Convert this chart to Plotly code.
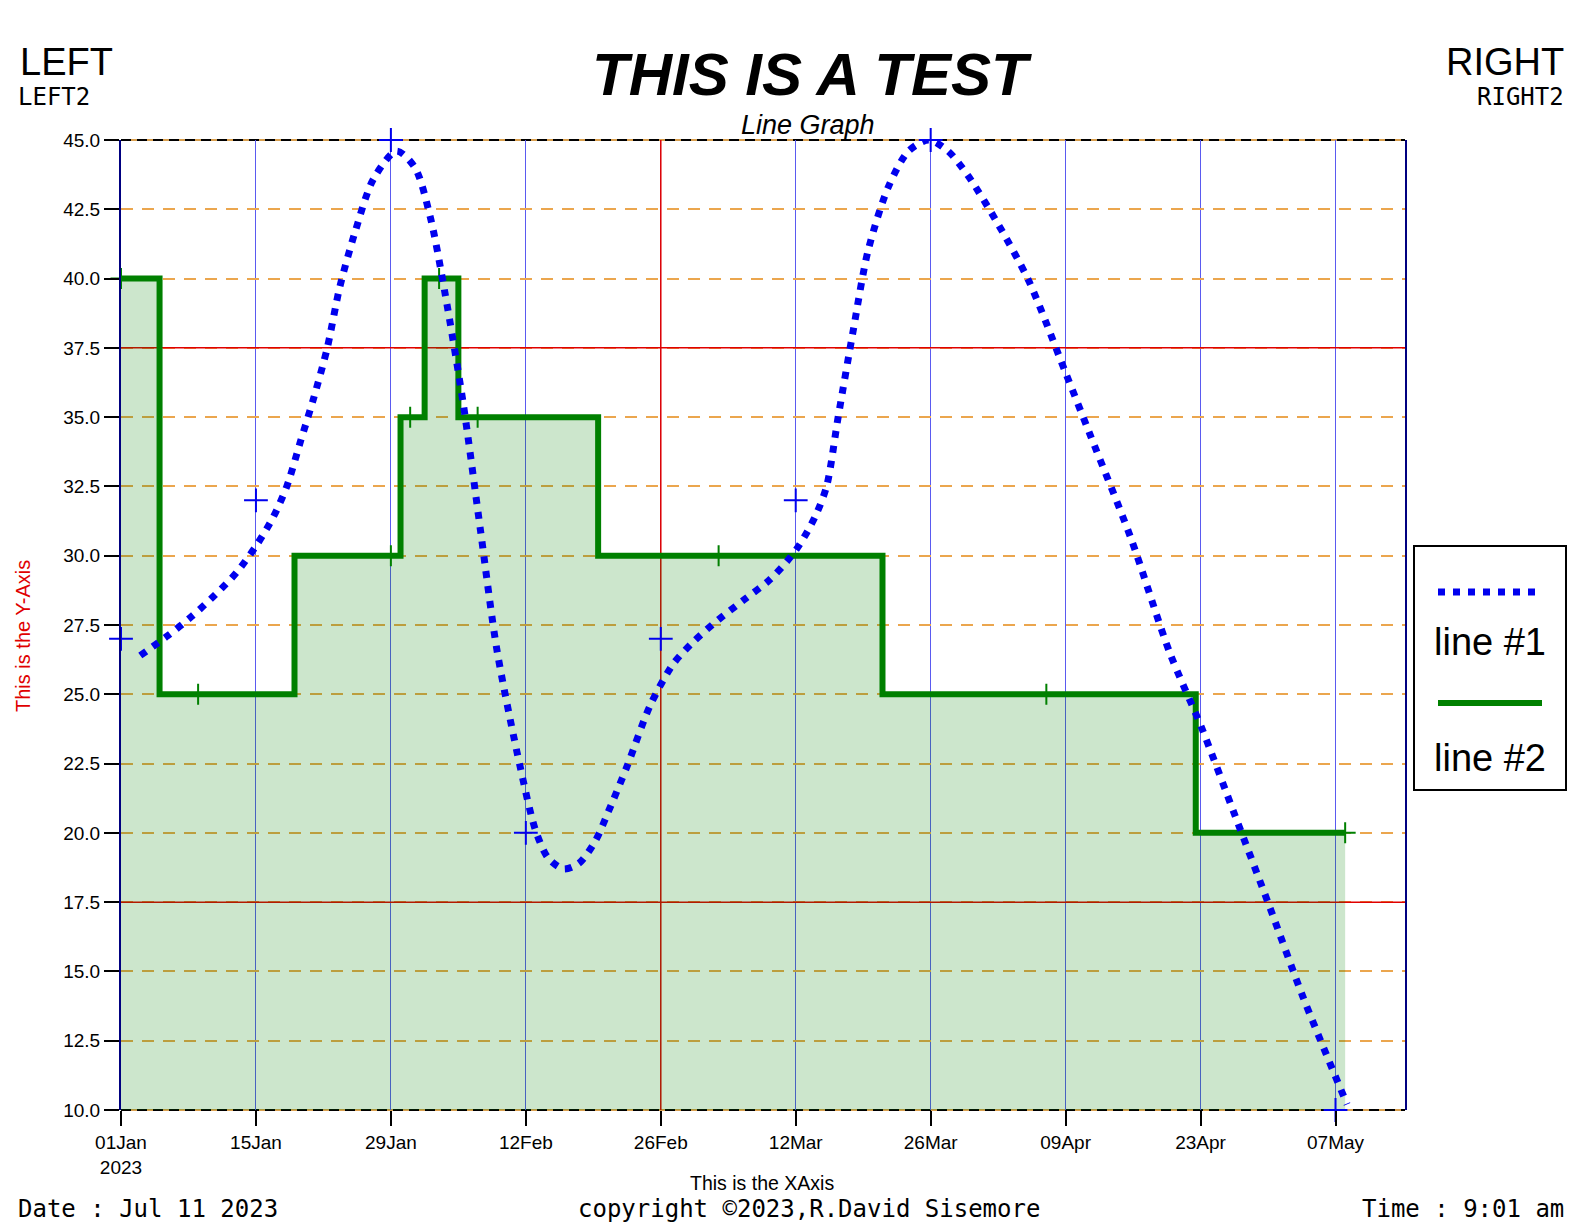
import pandas as pd
import plotly.graph_objects as go

# ---------------- data ----------------
BASE = pd.Timestamp("2023-01-01")

# line #1 : smooth dotted curve (day offset from 01 Jan 2023, value)
curve_days = [2.0, 4.8, 7.3, 9.8, 12.0, 14.1, 15.8, 17.2, 18.6, 20.0, 21.4, 22.7, 24.3, 26.2,
              28.6, 30.5, 32.1, 33.6, 35.5, 37.3, 39.0, 41.4, 43.0, 44.3, 45.9, 47.5, 49.2,
              50.6, 52.5, 54.9, 57.3, 59.4, 62.0, 64.6, 67.2, 69.1, 70.4, 72.0, 73.2, 74.4,
              75.9, 77.5, 79.6, 81.7, 83.8, 85.8, 87.9, 91.1, 94.2, 98.0, 100.5, 104.7,
              108.8, 112.1, 115.6, 119.2, 122.6, 127.2]
curve_vals = [26.4, 27.1, 27.8, 28.6, 29.4, 30.4, 31.4, 32.5, 34.1, 35.7, 37.5, 39.7, 41.7, 43.6,
              44.6, 44.0, 42.2, 39.5, 35.5, 30.9, 26.6, 22.4, 20.1, 19.1, 18.7, 18.9, 19.7,
              20.8, 22.4, 24.6, 26.1, 26.9, 27.7, 28.4, 29.1, 29.8, 30.4, 31.4, 32.5, 35.0,
              38.0, 41.0, 43.3, 44.6, 45.0, 44.6, 43.7, 41.9, 39.9, 36.6, 34.4, 30.7,
              26.5, 23.8, 20.6, 17.3, 14.1, 10.2]

# line #1 : data markers
l1_dates = ["2023-01-01", "2023-01-15", "2023-01-29", "2023-02-12",
            "2023-02-26", "2023-03-12", "2023-03-26", "2023-05-07"]
l1_vals = [27, 32, 45, 20, 27, 32, 45, 10]

# line #2 : step line with fill
l2_dates = ["2023-01-01", "2023-01-09", "2023-01-29", "2023-01-31", "2023-02-03",
            "2023-02-07", "2023-03-04", "2023-04-07", "2023-05-08"]
l2_vals = [40, 25, 30, 35, 40, 35, 30, 25, 20]

# axes
x_tickvals = ["2023-01-01", "2023-01-15", "2023-01-29", "2023-02-12", "2023-02-26",
              "2023-03-12", "2023-03-26", "2023-04-09", "2023-04-23", "2023-05-07"]
x_ticktext = ["01Jan<br>2023", "15Jan", "29Jan", "12Feb", "26Feb",
              "12Mar", "26Mar", "09Apr", "23Apr", "07May"]
x_range = ["2023-01-01", "2023-05-14 05:00"]
y_range = [10, 45]
red_h_lines = [17.5, 37.5]
red_v_lines = ["2023-02-26"]

# ---------------- layout helpers ----------------
W, H = 1584, 1224
PL, PR, PT, PB = 121, 1405, 140, 1110


def fx(px):
    return (px - PL) / (PR - PL)


def fy(py):
    return (PB - py) / (PB - PT)


HELV = "Liberation Sans, Arial, Helvetica, sans-serif"
MONO = "DejaVu Sans Mono, monospace"

curve_dates = [(BASE + pd.Timedelta(days=d)).round("min") for d in curve_days]

fig = go.Figure()

# red reference lines (drawn as traces so they sit above the grid)
for v in red_h_lines:
    fig.add_trace(go.Scatter(x=x_range, y=[v, v], mode="lines",
                             line=dict(color="#E00000", width=1.5),
                             showlegend=False, hoverinfo="skip"))
for v in red_v_lines:
    fig.add_trace(go.Scatter(x=[v, v], y=y_range, mode="lines",
                             line=dict(color="#E00000", width=1.5),
                             showlegend=False, hoverinfo="skip"))

fig.add_trace(go.Scatter(
    x=l2_dates, y=l2_vals, mode="lines", line=dict(shape="hvh", color="#008000", width=6),
    fill="tozeroy", fillcolor="rgba(0,128,0,0.2)", name="line #2", showlegend=False,
    hoverinfo="skip"))
fig.add_trace(go.Scatter(
    x=l2_dates, y=l2_vals, mode="markers", cliponaxis=False,
    marker=dict(symbol="cross-thin", size=15, line=dict(color="#008000", width=2)),
    showlegend=False, hoverinfo="skip"))
fig.add_trace(go.Scatter(
    x=curve_dates, y=curve_vals, mode="lines",
    line=dict(shape="spline", smoothing=0.8, color="#0000EE", width=7, dash="7px,8px"),
    name="line #1", showlegend=False, hoverinfo="skip"))
fig.add_trace(go.Scatter(
    x=l1_dates, y=l1_vals, mode="markers", cliponaxis=False,
    marker=dict(symbol="cross-thin", size=17, line=dict(color="#0000EE", width=2)),
    showlegend=False, hoverinfo="skip"))

shapes = []
# top / bottom frame: tan line with black dashes
for yy in (0, 1):
    shapes.append(dict(type="line", xref="x domain", yref="y domain", x0=0, x1=1, y0=yy, y1=yy,
                       line=dict(color="#D9A050", width=2), layer="below"))
    shapes.append(dict(type="line", xref="x domain", yref="y domain", x0=0, x1=1, y0=yy, y1=yy,
                       line=dict(color="black", width=2, dash="10px,6px"), layer="below"))

# custom legend
shapes.append(dict(type="rect", xref="paper", yref="paper", x0=fx(1414), x1=fx(1566),
                   y0=fy(790), y1=fy(546), line=dict(color="black", width=2),
                   fillcolor="white", layer="above"))
shapes.append(dict(type="line", xref="paper", yref="paper", x0=fx(1438), x1=fx(1542),
                   y0=fy(592), y1=fy(592), line=dict(color="#0000EE", width=7, dash="7px,8px"),
                   layer="above"))
shapes.append(dict(type="line", xref="paper", yref="paper", x0=fx(1438), x1=fx(1542),
                   y0=fy(703), y1=fy(703), line=dict(color="#008000", width=6), layer="above"))

annotations = []


def ann(text, px, py, size, family=HELV, xanchor="center", color="black", angle=0,
        weight="normal", style="normal"):
    annotations.append(dict(text=text, x=fx(px), y=fy(py), xref="paper", yref="paper",
                            xanchor=xanchor, yanchor="middle", showarrow=False,
                            textangle=angle,
                            font=dict(family=family, size=size, color=color,
                                      weight=weight, style=style)))


ann("THIS IS A TEST", 812, 74, 60, weight="bold", style="italic")
ann("Line Graph", 808, 125, 27, style="italic")
ann("LEFT", 18, 62, 38, xanchor="left")
ann("LEFT2", 16, 97, 24, family=MONO, xanchor="left")
ann("RIGHT", 1566, 62, 38, xanchor="right")
ann("RIGHT2", 1566, 97, 24, family=MONO, xanchor="right")
ann("This is the XAxis", 762, 1183, 19.5)
ann("This is the Y-Axis", 23, 636, 20, color="#E00000", angle=-90)
ann("Date : Jul 11 2023", 16, 1209, 24, family=MONO, xanchor="left")
ann("copyright ©2023,R.David Sisemore", 809, 1209, 24, family=MONO)
ann("Time : 9:01 am", 1566, 1209, 24, family=MONO, xanchor="right")
ann("line #1", 1490, 642, 38)
ann("line #2", 1490, 758, 38)

fig.update_layout(
    width=W, height=H,
    margin=dict(l=PL, r=W - PR, t=PT, b=H - PB, pad=0),
    paper_bgcolor="white", plot_bgcolor="white",
    showlegend=False,
    shapes=shapes, annotations=annotations,
    xaxis=dict(type="date", range=x_range, tickmode="array", tickvals=x_tickvals,
               ticktext=x_ticktext, showgrid=True, gridcolor="#5A5AF0", gridwidth=1,
               ticks="outside", ticklen=15, tickwidth=2, tickcolor="black",
               tickfont=dict(family=HELV, size=19, color="black"),
               showline=False, zeroline=False),
    yaxis=dict(range=y_range, dtick=2.5, tick0=10, tickformat=".1f", showgrid=True,
               gridcolor="#EBA64E", gridwidth=1.5, griddash="12px,9px",
               ticks="outside", ticklen=15, tickwidth=2, tickcolor="black",
               tickfont=dict(family=HELV, size=19, color="black"),
               showline=True, mirror=True, linecolor="#000080", linewidth=2,
               zeroline=False),
)

fig.write_html("out.html", config={"displayModeBar": False},
               post_script="document.body.style.margin='0px';")
